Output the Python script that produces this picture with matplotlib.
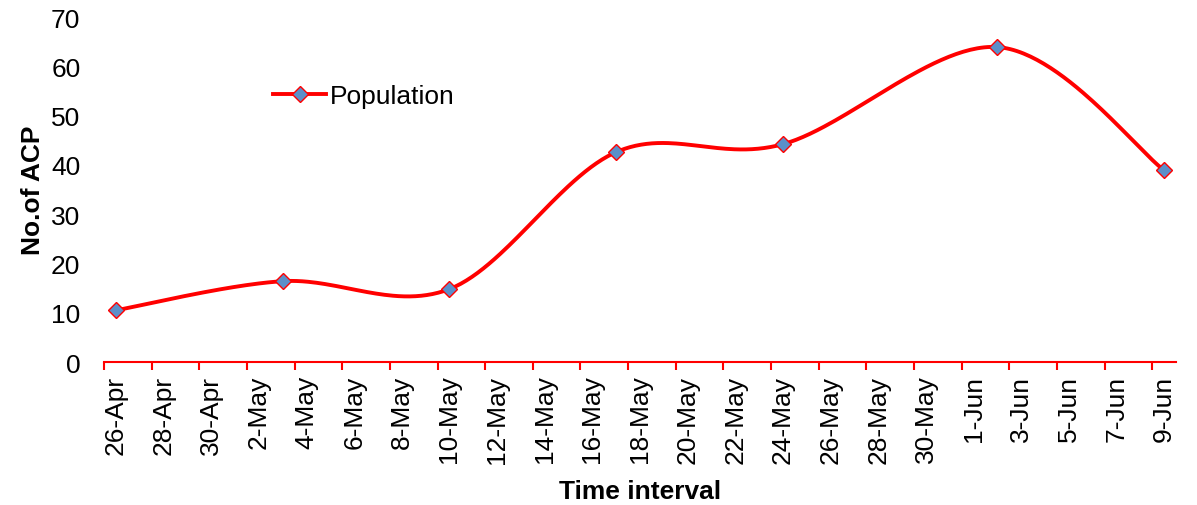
import matplotlib
matplotlib.use("Agg")
import matplotlib.pyplot as plt
import numpy as np
import pandas as pd

# ---- data ----
dates = ["2013-04-26", "2013-05-03", "2013-05-10", "2013-05-17",
         "2013-05-24", "2013-06-02", "2013-06-09"]
population = [10.5, 16.4, 14.8, 42.6, 44.2, 63.9, 38.9]
axis_start = "2013-04-26"
axis_end = "2013-06-09"

plt.rcParams['font.family'] = ['Liberation Sans', 'DejaVu Sans']

start = pd.Timestamp(axis_start)
end = pd.Timestamp(axis_end)
x = np.array([(pd.Timestamp(d) - start).days for d in dates], dtype=float)
y = np.array(population, dtype=float)
ndays = (end - start).days


def excel_smooth(xs, ys, n=60):
    P = np.column_stack([xs, ys])
    out = []
    m = len(P)
    for i in range(m - 1):
        p0 = P[i - 1] if i > 0 else P[i]
        p1 = P[i]
        p2 = P[i + 1]
        p3 = P[i + 2] if i + 2 < m else P[i + 1]
        c1 = p1 + (p2 - p0) / 6.0
        c2 = p2 - (p3 - p1) / 6.0
        t = np.linspace(0, 1, n)[:, None]
        seg = ((1 - t) ** 3) * p1 + 3 * ((1 - t) ** 2) * t * c1 + 3 * (1 - t) * t ** 2 * c2 + t ** 3 * p2
        out.append(seg if i == 0 else seg[1:])
    s = np.vstack(out)
    return s[:, 0], s[:, 1]


FS = 19

fig = plt.figure(figsize=(11.97, 5.06), dpi=100)
ax = fig.add_axes([0.0869, 0.2826, 0.8956, 0.6818])

sx, sy = excel_smooth(x, y)
ax.plot(sx, sy, color='#FF0000', lw=2.8, zorder=2)
ax.plot(x, y, linestyle='none', marker='D', markersize=8.5,
        markerfacecolor='#5B8FC9', markeredgecolor='#FF0000', markeredgewidth=1.0, zorder=3)

# legend proxy
ax.plot([], [], color='#FF0000', lw=2.8, marker='D', markersize=8.5,
        markerfacecolor='#5B8FC9', markeredgecolor='#FF0000', markeredgewidth=1.0, label='Population')
leg = ax.legend(loc='center left', bbox_to_anchor=(0.158, 0.771), frameon=False,
                fontsize=FS, handlelength=2.0, handletextpad=0.15, borderaxespad=0,
                borderpad=0)

ax.set_xlim(-0.5, ndays + 0.5)
ax.set_ylim(0, 70)

# x ticks: marks at day boundaries every 2 days, labels at day centres
label_pos = np.arange(0, ndays + 1, 2)
label_txt = [(start + pd.Timedelta(days=int(d))).strftime('%d-%b').lstrip('0') for d in label_pos]
ax.set_xticks(label_pos)
ax.set_xticklabels(label_txt, rotation=90, fontsize=FS)
ax.tick_params(axis='x', which='major', length=0, pad=9)
ax.set_xticks(np.arange(-0.5, ndays, 2), minor=True)
ax.tick_params(axis='x', which='minor', length=6, width=1.5, color='#FF0000', direction='out')

ax.set_yticks(np.arange(0, 71, 10))
ax.tick_params(axis='y', length=0, labelsize=FS, pad=17)

for s in ['top', 'right', 'left']:
    ax.spines[s].set_visible(False)
ax.spines['bottom'].set_color('#FF0000')
ax.spines['bottom'].set_linewidth(1.5)

ax.set_xlabel('Time interval', fontsize=FS, fontweight='bold', labelpad=12)
ax.set_ylabel('No.of ACP', fontsize=FS, fontweight='bold', labelpad=4)

fig.savefig('out.png', dpi=100)
